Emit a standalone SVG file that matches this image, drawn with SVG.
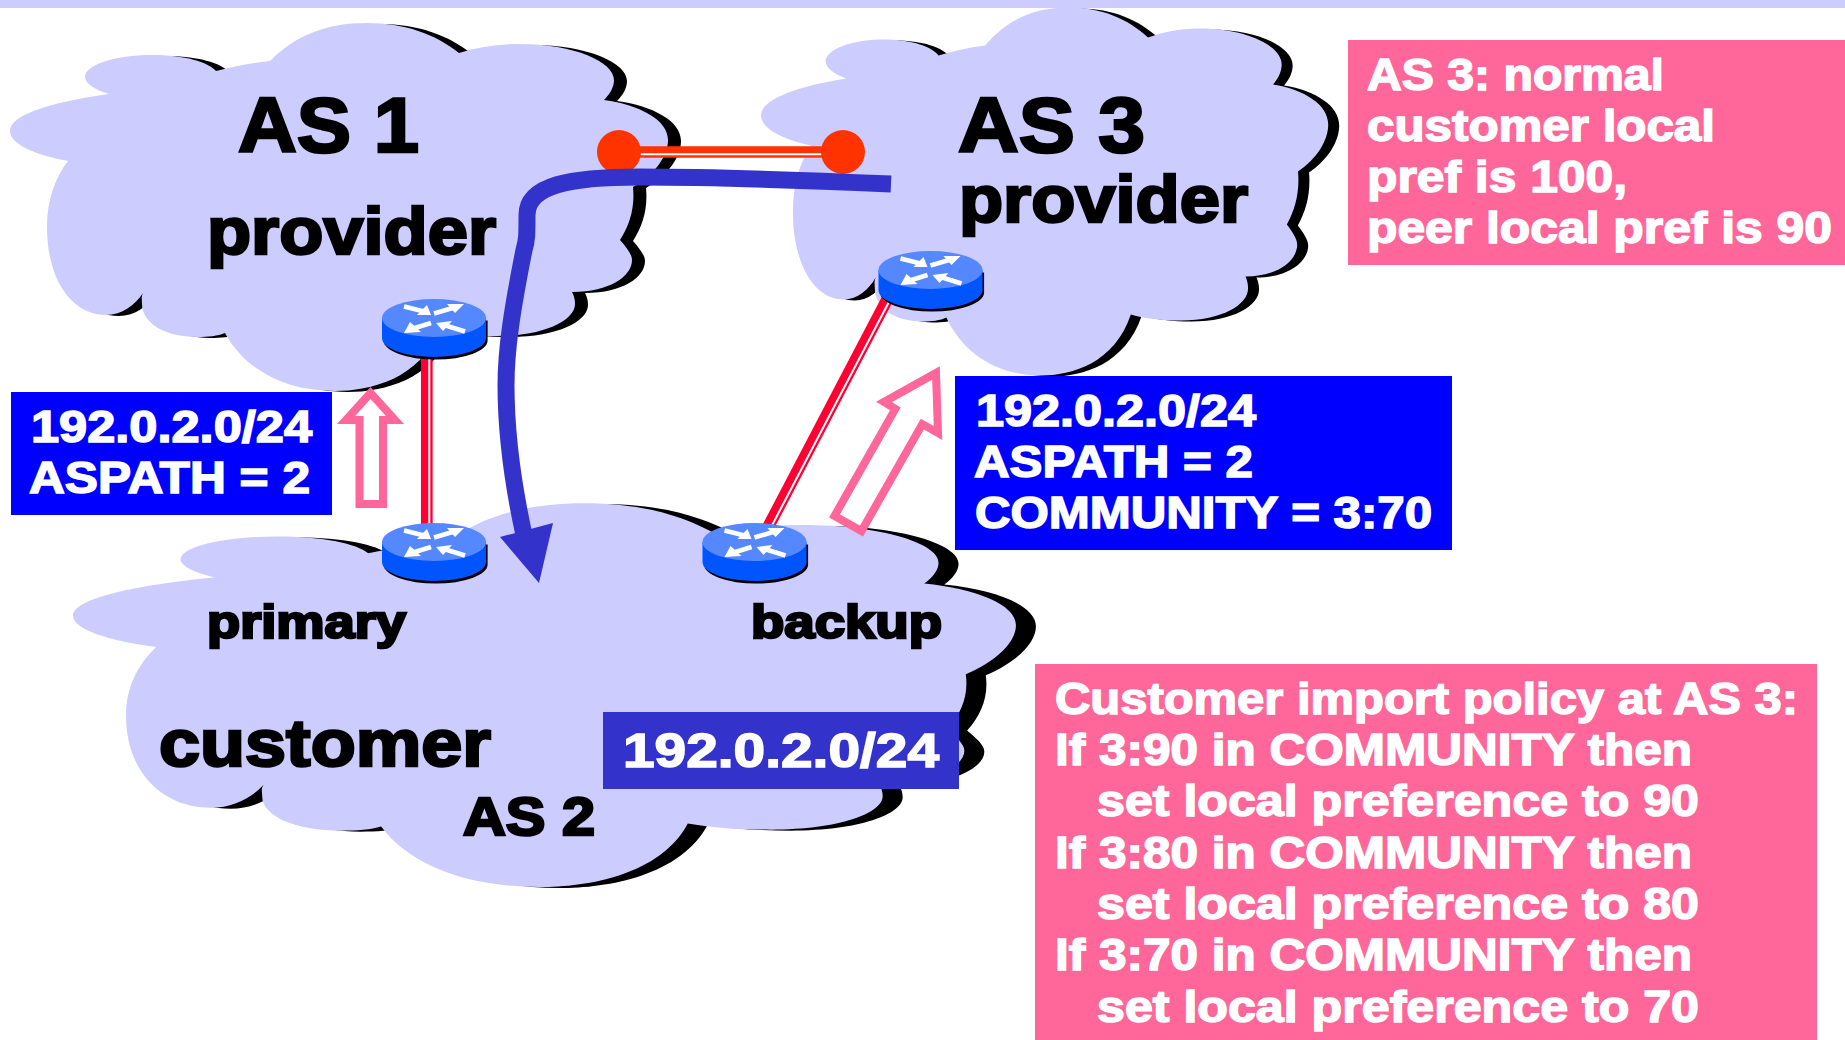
<svg xmlns="http://www.w3.org/2000/svg" width="1845" height="1040" viewBox="0 0 1845 1040">
<style>
text{font-family:"Liberation Sans",Arial,sans-serif;font-weight:bold;}
.k{fill:#000;stroke:#000;stroke-width:2.6;}
.w{fill:#fff;stroke:#fff;stroke-width:1.5;font-size:44px;}
.cf{fill:#CCCCFF;}
.cs{fill:#000;}
.pk{fill:#FF6699;}
.bl{fill:#0000FF;}
.ha{fill:#fff;stroke:#FF6699;stroke-width:8;stroke-miterlimit:10;}
</style>
<defs>
<path id="cloud" d="M109,94 C45,103 10,116 10,131 C10,144 35,155 68,161 C55,178 47,200 47,227 C47,280 72,315 106,315 C122,315 135,305 143,293 C141,297 142,300 142,304 C142,323 165,337 197,337 C208,337 218,336 225,333 C245,370 285,391 335,391 C370,391 420,379 439,330 C455,334 475,336 497,336 C545,336 575,320 575,304 C575,299 574,296 572,292 C610,292 632,276 632,260 C632,254 626,247 620,240 C630,225 635,207 633,187 C655,174 668,156 668,140 C668,120 640,105 604,100 C610,94 614,87 614,80 C614,62 575,44 519,44 C498,44 478,47 459,53 C435,34 405,23 367,23 C325,23 295,36 270,61 C250,63 232,67 216,71 C208,62 185,55 152,55 C115,55 85,65 85,77 C85,83 95,90 109,94 Z"/>
<g id="router">
<path d="M-52,0 V20 A52,19 0 0 0 52,20 V0 Z" transform="translate(1.6,2.6)" fill="#000"/>
<path d="M-52,0 V20 A52,19 0 0 0 52,20 V0 Z" fill="#0055FF"/>
<ellipse cx="0" cy="0" rx="52" ry="19" fill="#5588FF"/>
<g fill="none" stroke="#fff" stroke-width="4.6">
<line x1="-30" y1="-11.5" x2="-10" y2="-6.5"/>
<line x1="0" y1="-4.5" x2="22" y2="-11"/>
<line x1="-3" y1="5" x2="-24" y2="11.5"/>
<line x1="10" y1="7" x2="31" y2="13.5"/>
</g>
<g fill="#fff">
<polygon points="-3,-3 -17,-3 -7,-13"/>
<polygon points="30,-14 13,-14 21,-5"/>
<polygon points="-30,15 -24,4 -13,14"/>
<polygon points="2,5 18,3 9,13"/>
</g>
</g>
</defs>
<rect id="top-band" x="0" y="0" width="1845" height="8" class="cf"/>

<g id="as1-cloud">
<use href="#cloud" class="cs" transform="translate(13,1)"/>
<use href="#cloud" class="cf"/>
<text class="k" x="238" y="152" font-size="77" textLength="181" lengthAdjust="spacingAndGlyphs">AS 1</text>
<text class="k" x="207" y="254" font-size="66" textLength="289" lengthAdjust="spacingAndGlyphs">provider</text>
</g>
<g id="as3-cloud">
<use href="#cloud" class="cs" transform="matrix(.862 0 0 1 763.4 -14.5)"/>
<use href="#cloud" class="cf" transform="matrix(.862 0 0 1 752.4 -15.5)"/>
<text class="k" x="958" y="152" font-size="77" textLength="187" lengthAdjust="spacingAndGlyphs">AS 3</text>
<text class="k" x="959" y="222" font-size="66" textLength="289" lengthAdjust="spacingAndGlyphs">provider</text>
</g>
<g id="as2-cloud">
<use href="#cloud" class="cs" transform="matrix(1.433 0 0 1.043 78.7 480.2)"/>
<use href="#cloud" class="cf" transform="matrix(1.433 0 0 1.043 58.7 479.2)"/>
<text class="k" x="207" y="638" font-size="47" textLength="199" lengthAdjust="spacingAndGlyphs">primary</text>
<text class="k" x="751" y="638" font-size="47" textLength="191" lengthAdjust="spacingAndGlyphs">backup</text>
<text class="k" x="159" y="766" font-size="66" textLength="332" lengthAdjust="spacingAndGlyphs">customer</text>
<text class="k" x="463" y="835" font-size="54" textLength="132" lengthAdjust="spacingAndGlyphs">AS 2</text>
</g>

<g id="connectors">
<g id="link-primary">
<line x1="426.8" y1="350" x2="426.8" y2="530" stroke="#FF0033" stroke-width="11.7"/>
<line x1="429.3" y1="350" x2="429.3" y2="530" stroke="#fff" stroke-width="2"/>
</g>
<g id="link-backup">
<line x1="765" y1="533" x2="889" y2="296" stroke="#FF0033" stroke-width="12"/>
<line x1="767.5" y1="534" x2="891.5" y2="297" stroke="#fff" stroke-width="2"/>
</g>
<g id="link-peer">
<line x1="619" y1="152" x2="843" y2="152" stroke="#FF3300" stroke-width="11.7"/>
<line x1="619" y1="154.3" x2="843" y2="154.3" stroke="#fff" stroke-width="2"/>
<circle cx="619" cy="152" r="22" fill="#FF3300"/>
<circle cx="843" cy="152" r="22" fill="#FF3300"/>
</g>
<polygon id="announce-primary" class="ha" points="359.5,504 359.5,420 346,420 370.5,393 395,420 383,420 383,504"/>
<polygon id="announce-backup" class="ha" points="834.5,515.9 895.3,408.9 884,402 936,373 938,433 922.3,424.1 861.5,531.1"/>
<g id="traffic-path">
<path d="M891,184 C800,180 700,177 640,177 C570,177 527,185 527,215 C527,235 527,240 524,250 C512,310 506,350 506,385 C506,430 512,480 524,535" fill="none" stroke="#3333CC" stroke-width="17"/>
<polygon points="500,537 553,523 539,583" fill="#3333CC"/>
</g>
</g>

<g id="router-as1"><use href="#router" transform="translate(434,318)"/></g>
<g id="router-primary"><use href="#router" transform="translate(434,542)"/></g>
<g id="router-backup"><use href="#router" transform="translate(754.5,542)"/></g>
<g id="router-as3"><use href="#router" transform="translate(930.5,270)"/></g>

<g id="label-as1-route">
<rect x="11" y="392" width="321" height="123" class="bl"/>
<text class="w" x="31" y="442" textLength="281" lengthAdjust="spacingAndGlyphs">192.0.2.0/24</text>
<text class="w" x="29" y="493" textLength="281" lengthAdjust="spacingAndGlyphs">ASPATH = 2</text>
</g>
<g id="label-as3-route">
<rect x="955" y="376" width="497" height="174" class="bl"/>
<text class="w" x="976" y="426" textLength="280" lengthAdjust="spacingAndGlyphs">192.0.2.0/24</text>
<text class="w" x="974" y="477" textLength="279" lengthAdjust="spacingAndGlyphs">ASPATH = 2</text>
<text class="w" x="975" y="528" textLength="457" lengthAdjust="spacingAndGlyphs">COMMUNITY = 3:70</text>
</g>
<g id="label-origin">
<rect x="603" y="712" width="356" height="77" fill="#3333CC"/>
<text class="w" x="623" y="767" style="font-size:48px" textLength="316" lengthAdjust="spacingAndGlyphs">192.0.2.0/24</text>
</g>
<g id="note-as3">
<rect x="1348" y="40" width="497" height="225" class="pk"/>
<text class="w" x="1367" y="90" textLength="297" lengthAdjust="spacingAndGlyphs">AS 3: normal</text>
<text class="w" x="1367" y="141" textLength="348" lengthAdjust="spacingAndGlyphs">customer local</text>
<text class="w" x="1367" y="192" textLength="260" lengthAdjust="spacingAndGlyphs">pref is 100,</text>
<text class="w" x="1367" y="243" textLength="465" lengthAdjust="spacingAndGlyphs">peer local pref is 90</text>
</g>
<g id="note-policy">
<rect x="1035" y="664" width="782" height="376" class="pk"/>
<text class="w" x="1055" y="714" textLength="743" lengthAdjust="spacingAndGlyphs">Customer import policy at AS 3:</text>
<text class="w" x="1055" y="765" textLength="637" lengthAdjust="spacingAndGlyphs">If 3:90 in COMMUNITY then</text>
<text class="w" x="1097" y="816" textLength="602" lengthAdjust="spacingAndGlyphs">set local preference to 90</text>
<text class="w" x="1055" y="868" textLength="637" lengthAdjust="spacingAndGlyphs">If 3:80 in COMMUNITY then</text>
<text class="w" x="1097" y="919" textLength="602" lengthAdjust="spacingAndGlyphs">set local preference to 80</text>
<text class="w" x="1055" y="970" textLength="637" lengthAdjust="spacingAndGlyphs">If 3:70 in COMMUNITY then</text>
<text class="w" x="1097" y="1022" textLength="602" lengthAdjust="spacingAndGlyphs">set local preference to 70</text>
</g>
</svg>
